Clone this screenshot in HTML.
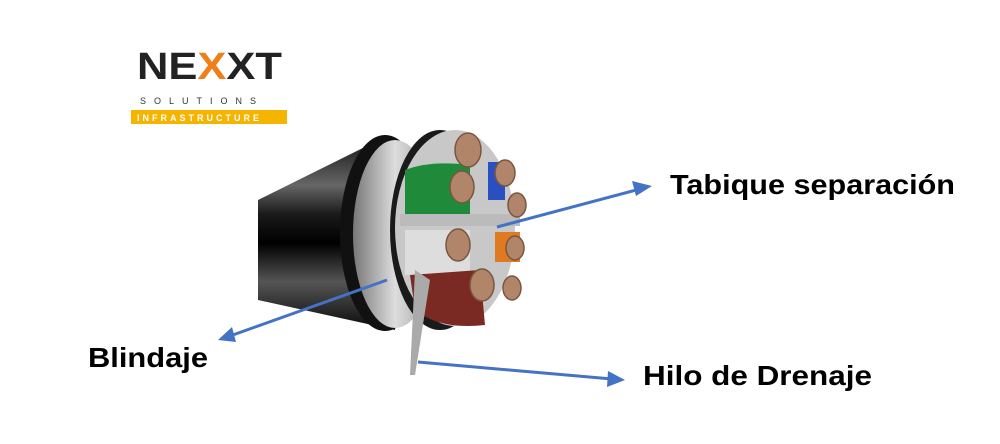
<!DOCTYPE html>
<html><head><meta charset="utf-8"><style>
html,body{margin:0;padding:0;background:#fff;}
svg{display:block;}
</style></head><body>
<svg width="1000" height="444" viewBox="0 0 1000 444" xmlns="http://www.w3.org/2000/svg" font-family="Liberation Sans, sans-serif">
<defs>
<linearGradient id="jk" x1="0" y1="0" x2="0" y2="1">
<stop offset="0" stop-color="#111"/><stop offset="0.25" stop-color="#666"/><stop offset="0.4" stop-color="#1a1a1a"/><stop offset="0.55" stop-color="#000"/><stop offset="0.75" stop-color="#555"/><stop offset="1" stop-color="#0a0a0a"/>
</linearGradient>
<linearGradient id="sh" x1="0" y1="0" x2="1" y2="0">
<stop offset="0" stop-color="#777"/><stop offset="0.5" stop-color="#ddd"/><stop offset="1" stop-color="#999"/>
</linearGradient>
</defs>
<!-- logo -->
<text x="137" y="79" font-size="38" font-weight="bold" fill="#222" textLength="145" lengthAdjust="spacingAndGlyphs">NE<tspan fill="#f07f1a">X</tspan>XT</text>
<text x="140" y="104" font-size="9" fill="#333" letter-spacing="8">SOLUTIONS</text>
<rect x="131" y="110" width="156" height="14" fill="#f5b400"/>
<text x="137" y="121" font-size="9" fill="#fff" font-weight="bold" letter-spacing="3">INFRASTRUCTURE</text>
<!-- cable jacket -->
<path d="M258 200 L385 137 L395 330 L258 300 Z" fill="url(#jk)"/>
<ellipse cx="385" cy="233" rx="45" ry="98" fill="#111"/>
<ellipse cx="395" cy="234" rx="42" ry="94" fill="url(#sh)"/>
<ellipse cx="440" cy="230" rx="50" ry="100" fill="#1a1a1a"/>
<ellipse cx="455" cy="228" rx="60" ry="98" fill="#c8c8c8"/>
<!-- cores -->
<path d="M405 170 Q430 160 470 165 L470 215 L405 215 Z" fill="#1f8a3a"/>
<path d="M405 230 L470 230 L470 275 L405 275 Z" fill="#ddd"/>
<path d="M410 275 L480 270 L485 325 Q440 330 415 310 Z" fill="#7a2a22"/>
<path d="M488 162 L505 162 L505 200 L488 200 Z" fill="#2a4fc0"/>
<path d="M495 232 L520 232 L520 262 L495 262 Z" fill="#e07a20"/>
<rect x="400" y="214" width="120" height="12" fill="#bbb"/>
<g fill="#b0856a" stroke="#7a5540" stroke-width="1.5">
<ellipse cx="468" cy="150" rx="13" ry="17"/>
<ellipse cx="462" cy="187" rx="12" ry="16"/>
<ellipse cx="505" cy="173" rx="10" ry="13"/>
<ellipse cx="517" cy="205" rx="9" ry="12"/>
<ellipse cx="458" cy="245" rx="12" ry="16"/>
<ellipse cx="515" cy="248" rx="9" ry="12"/>
<ellipse cx="482" cy="285" rx="12" ry="16"/>
<ellipse cx="512" cy="288" rx="9" ry="12"/>
</g>
<!-- drain wire -->
<path d="M415 270 L430 280 L415 375 L410 375 Z" fill="#aaa"/>
<!-- arrows -->
<g stroke="#4472c4" stroke-width="3" fill="#4472c4">
<line x1="497" y1="227" x2="640" y2="189"/>
<polygon points="652,186 632,181 636,196" stroke="none"/>
<line x1="387" y1="280" x2="230" y2="336"/>
<polygon points="218,340 232,327 236,342" stroke="none"/>
<line x1="418" y1="362" x2="612" y2="379"/>
<polygon points="625,380 608,371 607,387" stroke="none"/>
</g>
<g font-size="28" font-weight="bold" fill="#000">
<text x="670" y="194" textLength="285" lengthAdjust="spacingAndGlyphs">Tabique separación</text>
<text x="643" y="385" textLength="229" lengthAdjust="spacingAndGlyphs">Hilo de Drenaje</text>
<text x="88" y="367" textLength="120" lengthAdjust="spacingAndGlyphs">Blindaje</text>
</g>
</svg>
</body></html>
